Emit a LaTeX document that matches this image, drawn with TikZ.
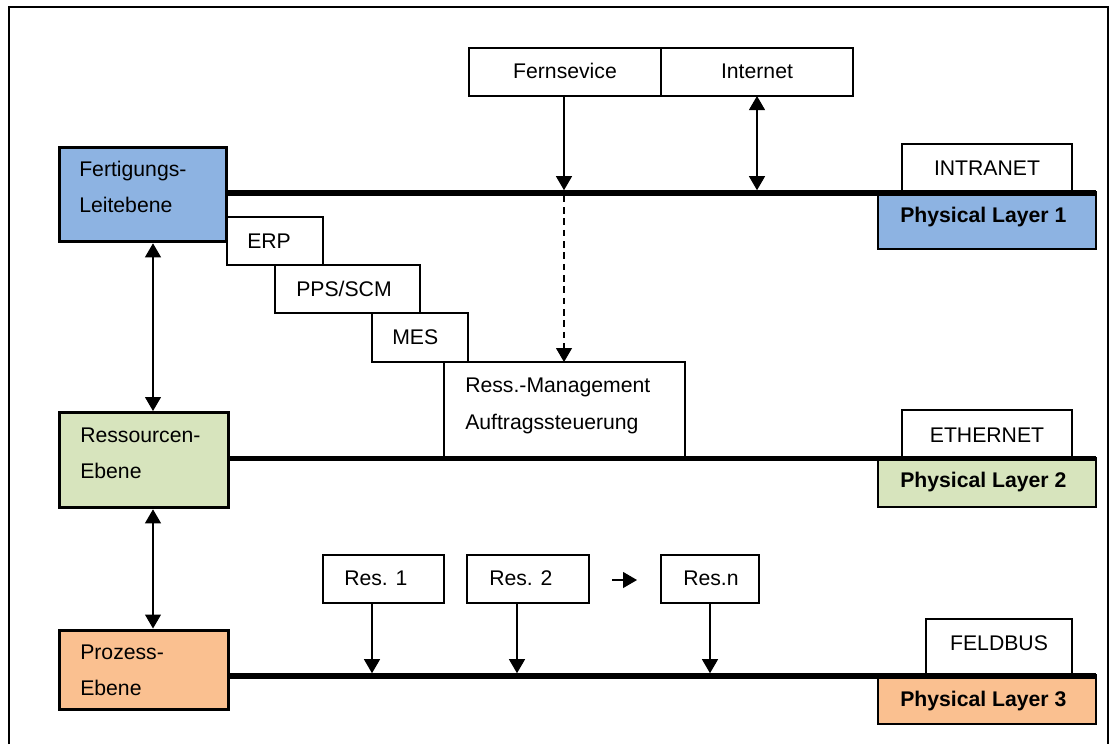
\documentclass[tikz,border=0pt]{standalone}
\usepackage{fontspec}
\setmainfont{Liberation Sans}
\usetikzlibrary{arrows.meta}

\definecolor{fertblue}{HTML}{8DB3E2}
\definecolor{resgreen}{HTML}{D7E4BD}
\definecolor{prozorange}{HTML}{FAC090}

% rectangle node given by its corners (x1,y1) and (x2,y2) in pixel units
\newcommand\pxbox[6]{%
  \node[#6, anchor=north west,
        minimum width={(#4-#2)*0.75pt}, minimum height={(#5-#3)*0.75pt}]
        (#1) at (#2,#3) {};}

\tikzset{
  box/.style={draw=black, line width=0.8pt, fill=white, inner sep=0pt, outer sep=0pt},
  levelbox/.style={draw=black, line width=2.5pt, inner sep=0pt, outer sep=auto},
  layerbox/.style={draw=black, line width=0.9pt, inner sep=0pt, outer sep=0pt},
  busbar/.style={fill=black, draw=none, inner sep=0pt, outer sep=0pt},
  lbl/.style={inner sep=0pt, anchor=base west, font=\fontsize{15.9}{19}\selectfont},
  clbl/.style={inner sep=0pt, anchor=base, font=\fontsize{15.9}{19}\selectfont},
  blbl/.style={inner sep=0pt, anchor=base west, font=\fontsize{15.9}{19}\selectfont\bfseries},
  tip/.tip={Triangle[length=10.5pt, width=12pt]},
  arr/.style={line width=0.8pt, -tip},
  darr/.style={line width=0.8pt, tip-tip},
}

\begin{document}
\begin{tikzpicture}[x=0.75pt, y=-0.75pt]
\useasboundingbox (0,0) rectangle (1117,744);

% outer frame
\draw[line width=0.8pt] (9,744) -- (9,7) -- (1108,7) -- (1108,744);

% level boxes
\pxbox{fert}{58}{146}{225}{240}{levelbox, fill=fertblue}
\pxbox{ressEb}{58}{411}{227}{506}{levelbox, fill=resgreen}
\pxbox{proz}{58}{628.5}{227}{708}{levelbox, fill=prozorange}

% physical layers and network labels
\pxbox{pl1}{878}{192}{1096}{249}{layerbox, fill=fertblue}
\pxbox{pl2}{878}{458}{1096}{507}{layerbox, fill=resgreen}
\pxbox{pl3}{878}{675}{1096}{724}{layerbox, fill=prozorange}
\pxbox{intranet}{902}{144}{1072}{192}{box}
\pxbox{ethernet}{902}{410}{1072}{458}{box}
\pxbox{feldbus}{926}{619}{1072}{675}{box}

% software stack
\pxbox{erp}{227}{217}{323}{265}{box}
\pxbox{pps}{275}{265}{420}{313}{box}
\pxbox{mes}{372}{313}{468}{362}{box}
\pxbox{ressMgmt}{444}{362}{685}{457}{box}

% remote access
\pxbox{fern}{469}{48}{661}{96}{box}
\pxbox{inet}{661}{48}{853}{96}{box}

% resources
\pxbox{res1}{323}{555}{444}{603}{box}
\pxbox{res2}{467}{555}{589}{603}{box}
\pxbox{resn}{661}{555}{759}{603}{box}

% bus lines
\pxbox{bus1}{225}{190.2}{1096}{195.8}{busbar}
\pxbox{bus2}{227}{455.7}{1096}{461.3}{busbar}
\pxbox{bus3}{227}{673.2}{1096}{678.8}{busbar}

% texts
\node[lbl] (tFert1) at (79,176) {Fertigungs-};
\node[lbl] (tFert2) at (79,212) {Leitebene};
\node[lbl] (tRess1) at (80,442) {Ressourcen-};
\node[lbl] (tRess2) at (80,478) {Ebene};
\node[lbl] (tProz1) at (80,659) {Prozess-};
\node[lbl] (tProz2) at (80,695) {Ebene};
\node[lbl] (tErp) at (247,248) {ERP};
\node[lbl] (tPps) at (296,296) {PPS/SCM};
\node[lbl] (tMes) at (392,344) {MES};
\node[lbl] (tMgmt1) at (465,392) {Ress.-Management};
\node[lbl] (tMgmt2) at (465,429) {Auftragssteuerung};
\node[clbl] (tFern) at (565,78) {Fernsevice};
\node[clbl] (tInet) at (757,78) {Internet};
\node[clbl] (tIntra) at (987,175) {INTRANET};
\node[clbl] (tEther) at (987,442) {ETHERNET};
\node[clbl] (tFeld) at (999,650) {FELDBUS};
\node[blbl] (tPl1) at (900,222) {Physical Layer 1};
\node[blbl] (tPl2) at (900,487) {Physical Layer 2};
\node[blbl] (tPl3) at (900,706) {Physical Layer 3};
\node[lbl] (tRes1) at (344,585) {Res. 1};
\node[lbl] (tRes2) at (489,585) {Res. 2};
\node[lbl] (tResn) at (683,585) {Res.n};

% connector positions
\coordinate (fx) at (564,0);
\coordinate (lx) at (153,0);
\coordinate (r1x) at (372,0);
\coordinate (r2x) at (517,0);
\coordinate (rnx) at (710,0);
\coordinate (more1) at (612,580);
\coordinate (more2) at (637,580);

% connectors
\draw[arr] (fx |- fern.south) -- (fx |- bus1.north);
\draw[arr, dashed, dash pattern=on 5pt off 3.5pt] (fx |- bus1.south) -- (fx |- ressMgmt.north);
\draw[darr] (inet.south) -- (inet.south |- bus1.north);
\draw[darr] (lx |- fert.south) -- (lx |- ressEb.north);
\draw[darr] (lx |- ressEb.south) -- (lx |- proz.north);
\draw[arr] (r1x |- res1.south) -- (r1x |- bus3.north);
\draw[arr] (r2x |- res2.south) -- (r2x |- bus3.north);
\draw[arr] (rnx |- resn.south) -- (rnx |- bus3.north);
\draw[arr] (more1) -- (more2);
\end{tikzpicture}
\end{document}
